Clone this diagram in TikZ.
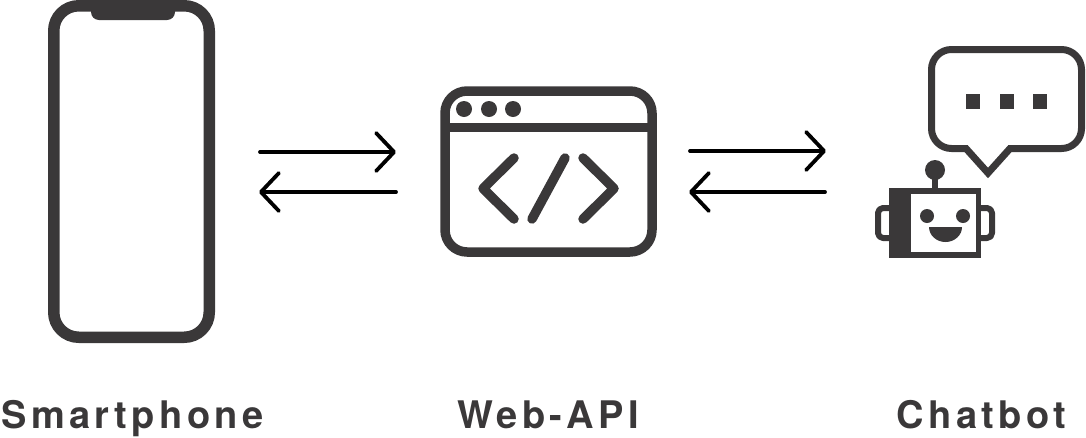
\documentclass[tikz,border=0pt]{standalone}
\usepackage{fontspec}
\setmainfont{TeX Gyre Heros}[LetterSpace=11.5,Ligatures=NoCommon]
\usetikzlibrary{arrows.meta}
\definecolor{ink}{HTML}{3A3839}
\tikzset{
  x=1pt,y=-1pt,
  flow/.style={black,line width=3.8pt,line cap=round,line join=miter,
    -{Straight Barb[length=18pt,width=38pt,line width=3.8pt,round]}},
  label/.style={inner sep=0pt,anchor=base,text=ink,font=\fontsize{38}{38}\selectfont\bfseries},
  shell/.style={draw=ink,line join=round},
  code/.style={draw=ink,line width=9.5pt,line cap=round,line join=round},
  solid ink/.style={fill=ink,draw=none}
}
\begin{document}
\begin{tikzpicture}
\useasboundingbox (0,0) rectangle (1086,437);
% phone
\draw[shell,line width=11.5pt,rounded corners=25pt] (53.75,5.75) rectangle (209.25,337.25);
\fill[solid ink] (91,5) -- (175,5) -- (175,12) arc[start angle=0,end angle=-90,radius=8pt] -- (99,20) arc[start angle=-90,end angle=-180,radius=8pt] -- cycle;
% browser
\draw[shell,line width=9.5pt,rounded corners=22pt] (445,91) rectangle (652,252);
\draw[ink,line width=9.5pt] (445,127.5) -- (652,127.5);
\foreach \xx in {464,489,513} \fill[solid ink] (\xx,109) circle[radius=8pt];
\draw[code] (514,158) -- (483,188.5) -- (514,219);
\draw[code] (565,158) -- (532,219);
\draw[code] (583,158) -- (614,188.5) -- (583,219);
% bubble
\draw[shell,line width=7pt,line join=miter]
  (951.5,49.5) -- (1061.5,49.5) arc[start angle=90,end angle=0,radius=20pt]
  -- (1081.5,128.5) arc[start angle=0,end angle=-90,radius=20pt]
  -- (1010,148.5) -- (988,173) -- (966,148.5) -- (951.5,148.5)
  arc[start angle=-90,end angle=-180,radius=20pt] -- (931.5,69.5)
  arc[start angle=180,end angle=90,radius=20pt] -- cycle;
\fill[solid ink] (966,94) rectangle (979.5,108.5);
\fill[solid ink] (1000,94) rectangle (1013.5,108.5);
\fill[solid ink] (1033,94) rectangle (1047,108.5);
% robot
\draw[shell,line width=6pt,rounded corners=5pt] (889,208) -- (878,208) -- (878,238) -- (889,238);
\draw[shell,line width=6pt,rounded corners=5pt] (981,208) -- (992,208) -- (992,238) -- (981,238);
\fill[solid ink] (889,188) rectangle (981,258);
\fill[white] (911,194) rectangle (976,252);
\fill[solid ink] (932,175) rectangle (938,190);
\fill[solid ink] (935,170) circle[radius=10pt];
\fill[solid ink] (927,216) circle[radius=7pt];
\fill[solid ink] (963,216) circle[radius=7pt];
\fill[solid ink] (929,227) -- (962,227) arc[start angle=0,end angle=180,x radius=16.5pt,y radius=-15pt] -- cycle;
% arrows
\coordinate (a1a) at (260,152); \coordinate (a1b) at (396,152);
\coordinate (a2a) at (396,192); \coordinate (a2b) at (259,192);
\coordinate (a3a) at (690,151); \coordinate (a3b) at (826,151);
\coordinate (a4a) at (825,192); \coordinate (a4b) at (689,192);
\draw[flow] (a1a) -- (a1b);
\draw[flow] (a2a) -- (a2b);
\draw[flow] (a3a) -- (a3b);
\draw[flow] (a4a) -- (a4b);
% labels
\node[label] (smart) at (132.5,428) {Smartphone};
\node[label] (api) at (548,428) {Web-API};
\node[label] (chat) at (981.5,428) {Chatbot};
\end{tikzpicture}
\end{document}
